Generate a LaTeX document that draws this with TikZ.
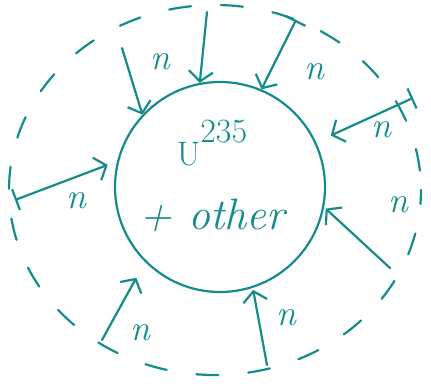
\documentclass[tikz,border=0pt]{standalone}
\usetikzlibrary{arrows.meta}
\definecolor{ink}{RGB}{20,140,140}
\tikzset{sketch/.style={x=1pt,y=-1pt,ink,line width=2.2pt,line cap=round},
  shot/.style={-{Straight Barb[length=10pt,width=24pt]}},
  barshot/.style={{Bar[width=22pt]}-{Straight Barb[length=10pt,width=24pt]}},
  nlabel/.style={font=\itshape\fontsize{36}{38}\selectfont},
  hand/.style={font=\itshape\fontsize{44}{46}\selectfont}}

\begin{document}
\begin{tikzpicture}[sketch]
    \useasboundingbox (0,0) rectangle (431,390);
    % shell of the reactor (dashed)
    \draw[dash pattern=on 22pt off 30pt,dash phase=8pt] (215,190) ellipse [x radius=206,y radius=185];
    \node[circle,draw,line width=2.2pt,minimum size=210pt,inner sep=0pt] (core) at (220,187) {};
    \node[font=\fontsize{34}{36}\selectfont] (fuel) at (212,143) {U\raisebox{0.65em}{235}};
    \node[hand] (other) at (212,215) {+ other};
    % neutrons coming in
    \coordinate (s1) at (122,48);
    \coordinate (s2) at (207,12);
    \coordinate (s3) at (296,20);
    \coordinate (s4) at (413,98);
    \coordinate (s5) at (15,200);
    \coordinate (s6) at (390,268);
    \coordinate (s7) at (102,340);
    \coordinate (s8) at (267,365);
    \draw[shot] (s1) -- (core.137);
    \draw[shot] (s2) -- (core.101);
    \draw[barshot] (s3) -- (core.67);
    \draw[barshot,shorten >=16pt] (s4) -- (core.25);
    \draw[barshot,shorten >=10pt] (s5) -- (core.166);
    \draw[shot,shorten >=2pt] (s6) -- (core.-11);
    \draw[shot,shorten >=18pt] (s7) -- (core.-135);
    \draw[shot,shorten >=2pt] (s8) -- (core.-72);
    \node[nlabel] (n1) at (160,62) {n};
    \node[nlabel] (n3) at (314,72) {n};
    \node[nlabel] (n4) at (381,130) {n};
    \node[nlabel] (n5) at (76,201) {n};
    \node[nlabel] (n6) at (398,205) {n};
    \node[nlabel] (n7) at (140,333) {n};
    \node[nlabel] (n8) at (286,318) {n};
\end{tikzpicture}
\end{document}
